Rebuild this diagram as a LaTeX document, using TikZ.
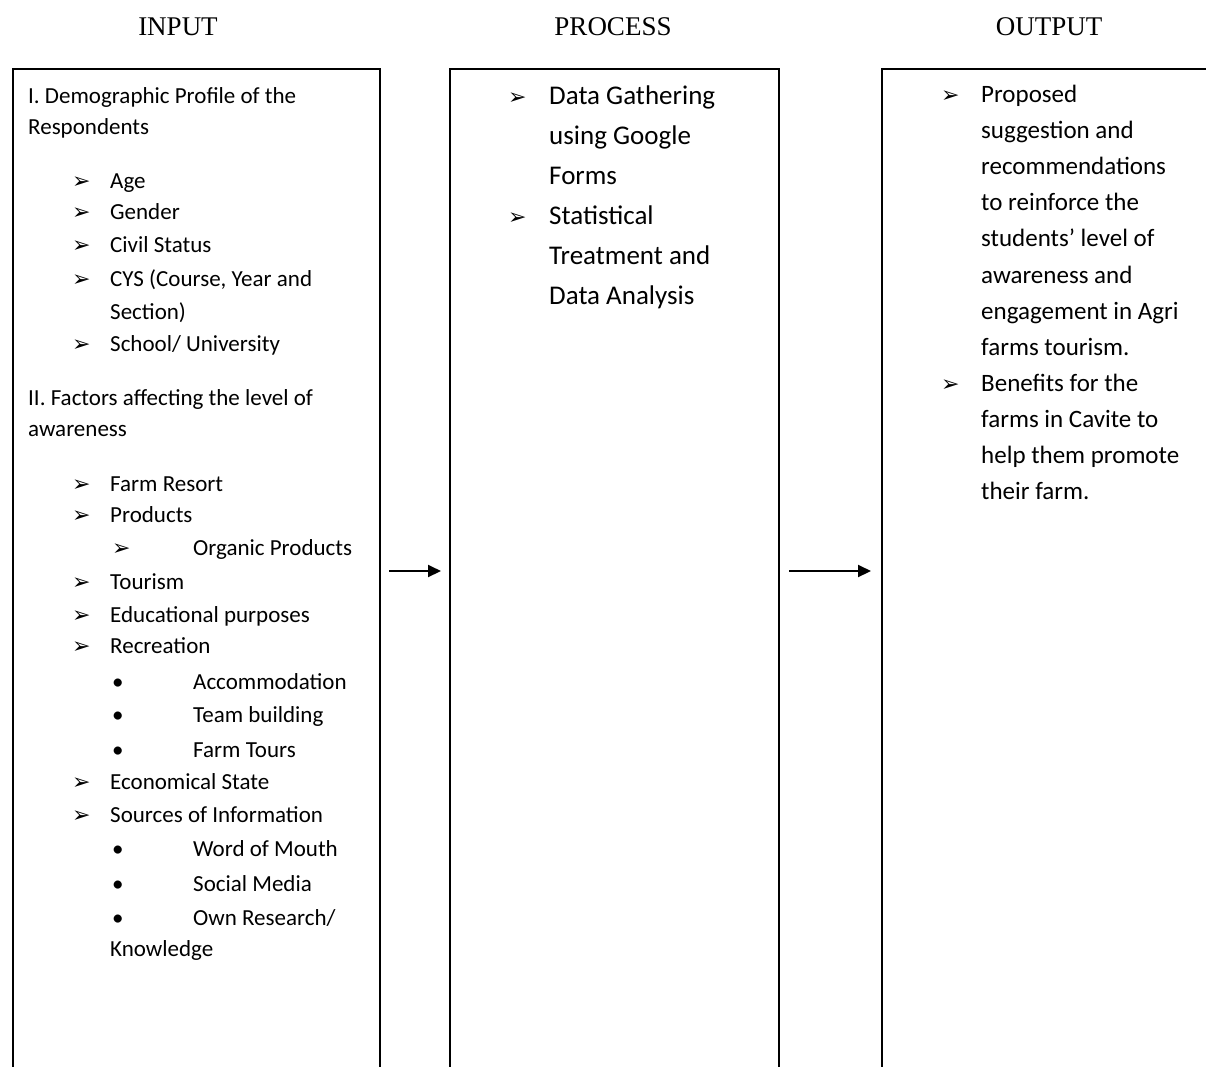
\documentclass[tikz,border=0pt]{standalone}
\usepackage{fontspec}
\setmainfont{Carlito}
\newfontfamily\headfont{Liberation Serif}
\newfontfamily\symfont{DejaVu Sans}
\usetikzlibrary{arrows.meta,positioning}
\newcommand{\tipmark}{{\symfont\char"27A2}}

\begin{document}
\begin{tikzpicture}[x=1pt,y=-1pt,
  head/.style={anchor=base,inner sep=0pt,font=\headfont\fontsize{27}{30}\selectfont},
  frame/.style={draw,line width=2pt,anchor=north west,minimum height=1004pt,inner sep=0pt},
  intext/.style={anchor=base west,inner sep=0pt,font=\fontsize{23}{32}\selectfont},
  proctext/.style={anchor=base west,inner sep=0pt,font=\fontsize{27}{40}\selectfont},
  outtext/.style={anchor=base west,inner sep=0pt,font=\fontsize{25}{36}\selectfont},
  tipsym/.style={anchor=base west,inner sep=0pt,font=\symfont\fontsize{22}{24}\selectfont},
  dotsym/.style={anchor=base west,inner sep=0pt,font=\fontsize{23}{32}\selectfont},
  arr/.style={-{Triangle[length=13pt,width=12pt]},line width=2pt,shorten <=8pt,shorten >=8pt}]
\useasboundingbox (0,0) rectangle (1206,1066);
\clip (0,0) rectangle (1206,1066);
% headings
\node[head] (hin) at (178,35) {INPUT};
\node[head] (hproc) at (613,35) {PROCESS};
\node[head] (hout) at (1049,35) {OUTPUT};
% boxes
\node[frame,minimum width=367pt] (inbox) at (12,68) {};
\node[frame,minimum width=329pt] (procbox) at (449,68) {};
\node[frame,minimum width=345pt] (outbox) at (881,68) {};
% input
\foreach \x/\y/\t [count=\i] in {28/103/{I. Demographic Profile of the},28/134/Respondents,
  110/188/Age,110/219/Gender,110/252/Civil Status,110/286/{CYS (Course, Year and},110/319/Section),
  110/351/{School/ University},28/405/II. Factors affecting the level of,28/436/awareness,
  110/491/Farm Resort,110/522/Products,193/555/Organic Products,110/589/Tourism,
  110/622/Educational purposes,110/653/Recreation,193/689/Accommodation,193/722/Team building,
  193/757/Farm Tours,110/789/Economical State,110/822/Sources of Information,
  193/856/Word of Mouth,193/891/Social Media,193/925/{Own Research/},110/956/Knowledge}
  {\node[intext] (in\i) at (\x,\y) {\t};}
\foreach \x/\y [count=\i] in {72/188,72/219,72/252,72/286,72/351,72/491,72/522,112/555,
  72/589,72/622,72/653,72/789,72/822}
  {\node[tipsym] (inm\i) at (\x,\y) {\tipmark};}
\foreach \y [count=\i] in {689,722,757,856,891,925}
  {\node[dotsym] (ind\i) at (112,\y) {•};}
% process
\foreach \y/\t [count=\i] in {104/Data Gathering,144/using Google,184/Forms,
  224/Statistical,264/Treatment and,304/Data Analysis}
  {\node[proctext] (pr\i) at (549,\y) {\t};}
\node[tipsym] (prm1) at (508,104) {\tipmark};
\node[tipsym] (prm2) at (508,224) {\tipmark};
% output
\foreach \y/\t [count=\i] in {102/Proposed,138/suggestion and,174/recommendations,
  210/to reinforce the,246/students’ level of,283/awareness and,319/engagement in Agri,
  355/farms tourism.,391/Benefits for the,427/farms in Cavite to,463/help them promote,
  499/their farm.}
  {\node[outtext] (ou\i) at (981,\y) {\t};}
\node[tipsym] (oum1) at (941,102) {\tipmark};
\node[tipsym] (oum2) at (941,391) {\tipmark};
% arrows
\draw[arr] (inbox.east) -- (procbox.west);
\draw[arr,shorten <=9pt,shorten >=10pt] (procbox.east) -- (outbox.west);
\end{tikzpicture}
\end{document}
